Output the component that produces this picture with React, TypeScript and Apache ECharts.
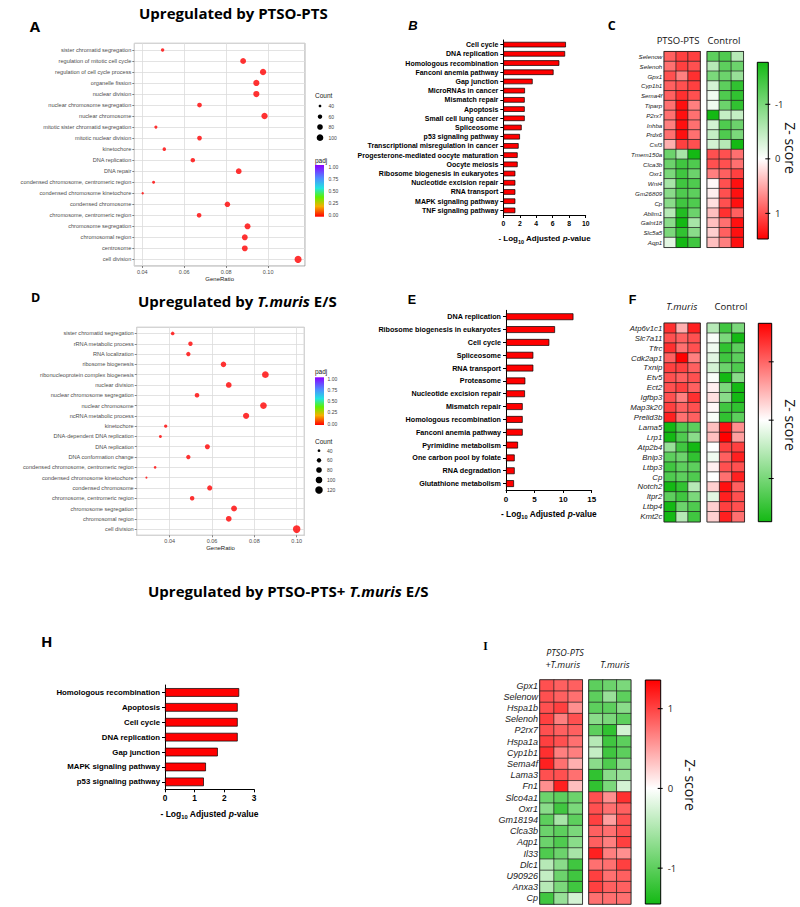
import React, { useEffect, useRef } from "react";
import * as echarts from "echarts";

// ---------------- Panel A (GO dot plot, PTSO-PTS) ----------------
const aTerms = [
  "sister chromatid segregation", "regulation of mitotic cell cycle", "regulation of cell cycle process",
  "organelle fission", "nuclear division", "nuclear chromosome segregation", "nuclear chromosome",
  "mitotic sister chromatid segregation", "mitotic nuclear division", "kinetochore", "DNA replication",
  "DNA repair", "condensed chromosome, centromeric region", "condensed chromosome kinetochore",
  "condensed chromosome", "chromosome, centromeric region", "chromosome segregation",
  "chromosomal region", "centrosome", "cell division",
];
const aRatio = [0.0497, 0.0881, 0.0976, 0.0944, 0.0944, 0.0673, 0.0983, 0.0465, 0.0673, 0.0505, 0.0641, 0.0860, 0.0454, 0.0402, 0.0806, 0.0671, 0.0902, 0.0889, 0.0889, 0.1143];
const aCount = [47, 84, 93, 90, 90, 64, 94, 44, 64, 48, 61, 82, 43, 38, 77, 64, 86, 84, 84, 109];
const aCountLegend = [40, 60, 80, 100];

// ---------------- Panel D (GO dot plot, T.muris) ----------------
const dTerms = [
  "sister chromatid segregation", "rRNA metabolic process", "RNA localization", "ribosome biogenesis",
  "ribonucleoprotein complex biogenesis", "nuclear division", "nuclear chromosome segregation",
  "nuclear chromosome", "ncRNA metabolic process", "kinetochore", "DNA-dependent DNA replication",
  "DNA replication", "DNA conformation change", "condensed chromosome, centromeric region",
  "condensed chromosome kinetochore", "condensed chromosome", "chromosome, centromeric region",
  "chromosome segregation", "chromosomal region", "cell division",
];
const dRatio = [0.0414, 0.0498, 0.0488, 0.0654, 0.0852, 0.0679, 0.0529, 0.0843, 0.0761, 0.0381, 0.0356, 0.0578, 0.0488, 0.0331, 0.0290, 0.0589, 0.0506, 0.0704, 0.0679, 0.1000];
const dCount = [50, 60, 59, 78, 102, 81, 63, 101, 91, 46, 43, 69, 59, 40, 35, 71, 61, 84, 81, 120];
const dCountLegend = [40, 60, 80, 100, 120];
const padjTicks = ["1.00", "0.75", "0.50", "0.25", "0.00"];

// ---------------- Panel B (KEGG bars) ----------------
const bTerms = [
  "Cell cycle", "DNA replication", "Homologous recombination", "Fanconi anemia pathway", "Gap junction",
  "MicroRNAs in cancer", "Mismatch repair", "Apoptosis", "Small cell lung cancer", "Spliceosome",
  "p53 signaling pathway", "Transcriptional misregulation in cancer", "Progesterone-mediated oocyte maturation",
  "Oocyte meiosis", "Ribosome biogenesis in eukaryotes", "Nucleotide excision repair", "RNA transport",
  "MAPK signaling pathway", "TNF signaling pathway",
];
const bValues = [7.6, 7.5, 6.8, 6.1, 3.56, 2.63, 2.6, 2.6, 2.6, 2.23, 2.02, 1.86, 1.74, 1.74, 1.46, 1.46, 1.46, 1.46, 1.46];

// ---------------- Panel E ----------------
const eTerms = [
  "DNA replication", "Ribosome biogenesis in eukaryotes", "Cell cycle", "Spliceosome", "RNA transport",
  "Proteasome", "Nucleotide excision repair", "Mismatch repair", "Homologous recombination",
  "Fanconi anemia pathway", "Pyrimidine metabolism", "One carbon pool by folate", "RNA degradation",
  "Glutathione metabolism",
];
const eValues = [11.8, 8.58, 7.58, 4.78, 4.78, 3.38, 3.32, 2.92, 2.92, 2.92, 2.1, 1.52, 1.52, 1.4];

// ---------------- Panel H ----------------
const hTerms = [
  "Homologous recombination", "Apoptosis", "Cell cycle", "DNA replication", "Gap junction",
  "MAPK signaling pathway", "p53 signaling pathway",
];
const hValues = [2.5, 2.45, 2.45, 2.45, 1.78, 1.38, 1.31];

// ---------------- Panel C heatmap ----------------
const cGenes = ["Selenow", "Selenoh", "Gpx1", "Cyp1b1", "Sema4f", "Tiparp", "P2rx7", "Inhba", "Prdx6", "Csf3",
  "Tmem150a", "Clca3b", "Oxr1", "Wnt4", "Gm26809", "Cp", "Ablim1", "Galnt18", "Slc5a5", "Aqp1"];
const cTreat = [
  [1.0, 1.2, 1.2], [0.9, 1.2, 1.1], [1.1, 0.8, 1.3], [1.0, 1.1, 1.2], [1.0, 1.3, 1.1],
  [0.9, 1.5, 0.8], [0.9, 1.5, 0.9], [0.8, 1.5, 0.9], [0.9, 1.5, 0.9], [0.5, 1.2, 1.1],
  [-1.0, -0.6, -1.6], [-1.0, -1.3, -1.2], [-0.9, -1.3, -1.0], [-0.6, -1.3, -1.2], [-0.8, -1.2, -1.1],
  [-0.8, -1.3, -1.2], [-0.5, -1.5, -1.0], [-0.8, -1.6, -0.6], [-0.9, -1.4, -0.8], [-0.2, -1.6, -1.3],
];
const cCtrl = [
  [-1.1, -1.2, -0.5], [-0.5, -1.1, -1.0], [-0.9, -1.0, -0.7], [-0.3, -1.1, -1.4], [-0.1, -1.2, -1.4],
  [-0.1, -1.0, -1.4], [-1.6, -0.4, -0.4], [-0.3, -1.2, -1.0], [-0.4, -1.2, -0.9], [-0.3, -0.5, -1.6],
  [1.1, 1.1, 0.9], [1.1, 1.1, 0.9], [0.8, 1.0, 1.2], [0.05, 1.1, 1.5], [0.1, 1.1, 1.5],
  [0.2, 1.1, 1.5], [0.4, 1.3, 1.0], [0.4, 0.9, 1.5], [0.3, 1.0, 1.5], [0.4, 0.8, 1.5],
];

// ---------------- Panel F heatmap ----------------
const fGenes = ["Atp6v1c1", "Slc7a11", "Tfrc", "Cdk2ap1", "Txnip", "Etv5", "Ect2", "Igfbp3", "Map3k20", "Prelid3b",
  "Lama5", "Lrp1", "Atp2b4", "Bnip3", "Ltbp3", "Cp", "Notch2", "Itpr2", "Ltbp4", "Kmt2c"];
const fTreat = [
  [1.3, 0.5, 1.4], [1.1, 1.0, 1.1], [1.3, 0.9, 1.1], [1.0, 1.6, 0.8], [1.2, 1.2, 1.0],
  [1.1, 1.0, 1.1], [1.1, 1.2, 1.0], [1.1, 0.8, 1.3], [1.2, 1.0, 1.1], [1.4, 0.9, 1.0],
  [-1.6, -1.2, -1.1], [-1.6, -1.2, -0.8], [-0.7, -1.3, -1.6], [-1.1, -1.0, -1.4], [-1.3, -1.1, -1.1],
  [-1.2, -1.1, -1.2], [-1.6, -1.4, -0.5], [-1.1, -1.3, -0.9], [-1.6, -1.0, -1.2], [-1.6, -0.5, -1.3],
];
const fCtrl = [
  [-0.5, -1.3, -0.9], [-0.05, -0.9, -1.6], [-0.1, -1.4, -1.1], [-0.2, -1.3, -1.1], [-0.3, -1.0, -1.2],
  [-0.05, -1.6, -0.8], [0.1, -0.9, -1.6], [0.2, -0.8, -1.6], [0.05, -1.3, -1.4], [-0.05, -1.4, -1.1],
  [0.4, 1.5, 0.7], [0.4, 1.6, 0.6], [0.0, 1.2, 1.2], [-0.1, 1.0, 1.4], [0.1, 1.1, 1.1],
  [0.0, 0.9, 1.4], [0.3, 1.5, 1.0], [-0.2, 1.4, 1.1], [0.3, 1.2, 1.1], [0.3, 1.4, 0.9],
];

// ---------------- Panel I heatmap ----------------
const iGenes = ["Gpx1", "Selenow", "Hspa1b", "Selenoh", "P2rx7", "Hspa1a", "Cyp1b1", "Sema4f", "Lama3", "Fn1",
  "Slco4a1", "Oxr1", "Gm18194", "Clca3b", "Aqp1", "Il33", "Dlc1", "U90926", "Anxa3", "Cp"];
const iTreat = [
  [1.1, 1.0, 1.0], [1.1, 1.0, 0.9], [1.1, 1.2, 0.7], [1.2, 0.8, 1.1], [1.1, 1.0, 1.0],
  [1.2, 1.1, 0.9], [1.3, 0.8, 0.8], [1.4, 0.9, 0.5], [1.1, 1.1, 0.9], [0.7, 1.4, 0.4],
  [-1.0, -1.1, -1.0], [-0.8, -1.3, -0.9], [-1.1, -0.6, -1.1], [-1.0, -1.1, -0.9], [-1.0, -1.2, -0.8],
  [-1.2, -1.0, -0.6], [-0.5, -0.8, -1.3], [-0.4, -1.0, -1.3], [-0.5, -0.9, -1.3], [-1.3, -0.7, -0.3],
];
const iCtrl = [
  [-1.1, -1.0, -0.9], [-1.1, -0.7, -1.1], [-1.1, -1.1, -0.8], [-0.8, -0.9, -1.1], [-1.1, -1.4, -0.3],
  [-0.5, -1.3, -1.1], [-0.4, -1.3, -1.1], [-0.8, -1.2, -0.8], [-1.4, -0.8, -0.7], [-1.4, -0.9, -0.3],
  [1.1, 0.7, 1.3], [1.1, 0.9, 1.0], [1.2, 0.6, 1.1], [1.0, 0.9, 1.1], [1.0, 0.8, 1.2],
  [1.4, 0.8, 0.7], [0.9, 0.9, 1.2], [1.2, 0.9, 1.0], [1.2, 1.0, 1.0], [0.9, 0.9, 0.9],
];
const sampleCols = ["1", "2", "3"];

const GREEN = "#14B914";
const RED = "#FF0000";
const UI = "'Open Sans', 'Noto Sans', sans-serif";
const AR = "'Liberation Sans', Arial, sans-serif";

const dotSize = (c: number) => Math.sqrt(Math.max(0.62 * c - 17.5, 2.5));
const toCells = (m: number[][]) => m.flatMap((row, r) => row.map((v, c) => [c, r, v]));

function txt(x: number, y: number, t: string, style: any = {}, rotation = 0) {
  return {
    type: "text", x, y, rotation, z: 100,
    style: { text: t, fill: "#000", fontFamily: AR, fontSize: 10, align: "left", verticalAlign: "middle", ...style },
  };
}

function zBar(x: number, y: number, w: number, h: number, topVal: number, botVal: number, ticks: number[], labelX: number | null) {
  const els: any[] = [];
  const zero = (0 - topVal) / (botVal - topVal);
  const topC = topVal < 0 ? GREEN : RED;
  const botC = botVal < 0 ? GREEN : RED;
  els.push({
    type: "rect", z: 100, shape: { x, y, width: w, height: h },
    style: {
      fill: new echarts.graphic.LinearGradient(0, 0, 0, 1, [
        { offset: 0, color: topC }, { offset: zero, color: "#FFFFFF" }, { offset: 1, color: botC },
      ]),
      stroke: "#000", lineWidth: 1,
    },
  });
  ticks.forEach((v) => {
    const ty = y + ((v - topVal) / (botVal - topVal)) * h;
    els.push({ type: "line", z: 101, shape: { x1: x + w - 3, y1: ty, x2: x + w + 2, y2: ty }, style: { stroke: "#000", lineWidth: 1 } });
    if (labelX !== null) els.push(txt(labelX, ty, String(v), { fontFamily: UI, fontSize: 9.5, fill: "#222" }));
  });
  return els;
}

function dotLegend(x: number, titleY: number, dotX: number, dotYs: number[], counts: number[], labelX: number) {
  const els: any[] = [txt(x, titleY, "Count", { fontSize: 6.5, fill: "#222" })];
  counts.forEach((c, i) => {
    els.push({ type: "circle", z: 100, shape: { cx: dotX, cy: dotYs[i], r: dotSize(c) / 2 }, style: { fill: "#000" } });
    els.push(txt(labelX, dotYs[i], String(c), { fontSize: 5, fill: "#444" }));
  });
  return els;
}

function padjLegend(x: number, titleY: number, barY: number, barH: number, labelX: number) {
  const els: any[] = [txt(x, titleY, "padj", { fontSize: 6.5, fill: "#222" })];
  els.push({
    type: "rect", z: 100, shape: { x, y: barY, width: 9, height: barH },
    style: {
      fill: new echarts.graphic.LinearGradient(0, 0, 0, 1, [
        { offset: 0, color: "#8B00FF" }, { offset: 0.25, color: "#4F8BFF" }, { offset: 0.45, color: "#22E5E0" },
        { offset: 0.62, color: "#5EF000" }, { offset: 0.8, color: "#F5B000" }, { offset: 1, color: "#FF0000" },
      ]),
    },
  });
  padjTicks.forEach((t, i) => {
    els.push(txt(labelX, barY + 1.5 + (i * (barH - 3)) / (padjTicks.length - 1), t, { fontSize: 5, fill: "#444" }));
  });
  return els;
}

const titleRich = {
  b: { fontFamily: UI, fontWeight: "bold", fontSize: 15, fill: "#000" },
  bi: { fontFamily: UI, fontWeight: "bold", fontStyle: "italic", fontSize: 15, fill: "#000" },
};

const logName = "{a|- Log}{s|10}{a| Adjusted }{i|p}{a|-value}";
const logRich = (fs: number) => ({
  a: { fontSize: fs, fontWeight: "bold", color: "#000", fontFamily: AR, lineHeight: 12 },
  s: { fontSize: fs * 0.68, fontWeight: "bold", color: "#000", fontFamily: AR, lineHeight: 7, verticalAlign: "bottom" },
  i: { fontSize: fs, fontWeight: "bold", fontStyle: "italic", color: "#000", fontFamily: AR, lineHeight: 12 },
});

function dotAxes(gi: number, terms: string[], min: number, max: number) {
  const x = {
    gridIndex: gi, type: "value", min, max, splitNumber: 4,
    axisLine: { show: false, onZero: false },
    axisTick: { show: true, length: 2, lineStyle: { color: "#333", width: 0.6 } },
    axisLabel: { fontSize: 5.5, color: "#4d4d4d", margin: 3, showMinLabel: false, showMaxLabel: false, formatter: (v: number) => v.toFixed(2) },
    splitLine: { show: true, lineStyle: { color: "#dcdcdc", width: 0.8 } },
    name: "GeneRatio", nameLocation: "middle", nameGap: 10, nameTextStyle: { fontSize: 6, color: "#222", fontFamily: AR },
  };
  const y = {
    gridIndex: gi, type: "value", min: -0.6, max: terms.length - 0.4, splitNumber: terms.length, inverse: true,
    axisLine: { show: false, onZero: false },
    axisTick: { show: true, length: 2, lineStyle: { color: "#333", width: 0.6 } },
    axisLabel: {
      fontSize: 5.6, color: "#4d4d4d", margin: 3, showMinLabel: false, showMaxLabel: false,
      formatter: (v: number) => (Number.isInteger(v) && v >= 0 && v < terms.length ? terms[Math.abs(v)] : ""),
    },
    splitLine: { show: true, lineStyle: { color: "#dcdcdc", width: 0.8 } },
  };
  return { x, y };
}

function barAxes(gi: number, terms: string[], max: number, interval: number, fs: number, tickFs: number, nameGap: number, nameFs: number) {
  const x = {
    gridIndex: gi, type: "value", min: 0, max, interval,
    axisLine: { show: true, lineStyle: { color: "#000", width: 1 } },
    axisTick: { show: true, length: 3, lineStyle: { color: "#000", width: 1 } },
    axisLabel: { fontWeight: "bold", fontSize: tickFs, color: "#000", margin: 5, fontFamily: AR },
    splitLine: { show: false },
    name: logName, nameLocation: "middle", nameGap, nameTextStyle: { rich: logRich(nameFs) },
  };
  const y = {
    gridIndex: gi, type: "category", data: terms, inverse: true,
    axisLine: { show: true, lineStyle: { color: "#000", width: 1 } },
    axisTick: { show: true, length: 3, alignWithLabel: true, lineStyle: { color: "#000", width: 1 } },
    axisLabel: { fontWeight: "bold", fontSize: fs, color: "#000", margin: 5, fontFamily: AR, interval: 0 },
  };
  return { x, y };
}

function heatAxes(gi: number, genes: string[], showLabels: boolean, fs: number) {
  const x = { gridIndex: gi, type: "category", data: sampleCols, show: false };
  const y = {
    gridIndex: gi, type: "category", data: genes, inverse: true,
    axisLine: { show: false }, axisTick: { show: false },
    axisLabel: { show: showLabels, fontStyle: "italic", fontSize: fs, color: "#222", margin: 2, fontFamily: AR, interval: 0 },
  };
  return { x, y };
}

const grids = [
  { left: 134.3, top: 43.3, width: 170.7, height: 222.7 },   // 0 A
  { left: 503.3, top: 40, width: 82.4, height: 175 },        // 1 B
  { left: 664.3, top: 51.7, width: 35.7, height: 195.6 },    // 2 C1
  { left: 707.3, top: 51.7, width: 36, height: 195.6 },      // 3 C2
  { left: 136.7, top: 327.3, width: 167.6, height: 208 },    // 4 D
  { left: 506, top: 310.3, width: 85.7, height: 179.7 },     // 5 E
  { left: 664.3, top: 323.3, width: 35.7, height: 198.4 },   // 6 F1
  { left: 707.3, top: 323.3, width: 37, height: 198.4 },     // 7 F2
  { left: 165, top: 685, width: 89, height: 104.3 },         // 8 H
  { left: 540, top: 680, width: 42.3, height: 224 },         // 9 I1
  { left: 589, top: 680, width: 41.7, height: 224 },         // 10 I2
];

export default function App() {
  const ref = useRef<HTMLDivElement>(null);
  useEffect(() => {
    if (!ref.current) return;
    const chart = echarts.init(ref.current, undefined, { renderer: "svg" });

    const aA = dotAxes(0, aTerms, 0.0362, 0.1176);
    const bA = barAxes(1, bTerms, 10, 2, 7, 6.8, 17, 8);
    const c1 = heatAxes(2, cGenes, true, 6.2);
    const c2 = heatAxes(3, cGenes, false, 6.2);
    const dA = dotAxes(4, dTerms, 0.0244, 0.1036);
    const eA = barAxes(5, eTerms, 15, 5, 7.2, 8, 18, 8.3);
    const f1 = heatAxes(6, fGenes, true, 7.8);
    const f2 = heatAxes(7, fGenes, false, 7.8);
    const hA = barAxes(8, hTerms, 3, 1, 7.8, 8.3, 19, 8.5);
    const i1 = heatAxes(9, iGenes, true, 9);
    const i2 = heatAxes(10, iGenes, false, 9);
    const axes = [aA, bA, c1, c2, dA, eA, f1, f2, hA, i1, i2];

    const gridOpts = grids.map((g, i) => {
      const isDot = i === 0 || i === 4;
      const isHeat = [2, 3, 6, 7, 9, 10].includes(i);
      return {
        ...g, containLabel: false,
        show: isDot || isHeat,
        borderColor: isDot ? "#8a8a8a" : "#000",
        borderWidth: isDot ? 0.8 : 1.2,
        backgroundColor: "#fff",
      };
    });

    const barSeries = (idx: number, data: number[], gap: string) => ({
      type: "bar", xAxisIndex: idx, yAxisIndex: idx, data, barCategoryGap: gap,
      itemStyle: { color: RED, borderColor: "#000", borderWidth: 0.7 }, silent: true,
    });
    const dotSeries = (idx: number, ratio: number[], count: number[]) => ({
      type: "scatter", xAxisIndex: idx, yAxisIndex: idx,
      data: ratio.map((r, i) => [r, i, count[i]]),
      symbolSize: (v: number[]) => dotSize(v[2]),
      itemStyle: { color: RED }, silent: true,
    });
    const heatSeries = (idx: number, m: number[][]) => ({
      type: "heatmap", xAxisIndex: idx, yAxisIndex: idx, data: toCells(m),
      itemStyle: { borderColor: "#222", borderWidth: 0.7 }, silent: true,
    });

    const graphics: any[] = [
      // titles
      txt(139, 12.5, "{b|Upregulated by PTSO-PTS}", { rich: titleRich }),
      txt(138, 301, "{b|Upregulated by }{bi|T.muris}{b| E/S}", { rich: titleRich }),
      txt(148, 590.5, "{b|Upregulated by PTSO-PTS+ }{bi|T.muris}{b| E/S}", { rich: titleRich }),
      // panel letters
      txt(35, 26, "A", { fontFamily: UI, fontWeight: "bold", fontSize: 15, align: "center" }),
      txt(413, 25, "B", { fontFamily: AR, fontWeight: "bold", fontStyle: "italic", fontSize: 13, align: "center" }),
      txt(611.7, 25, "C", { fontFamily: UI, fontWeight: "bold", fontSize: 12.5, align: "center" }),
      txt(35.5, 297, "D", { fontFamily: UI, fontWeight: "bold", fontSize: 12.5, align: "center" }),
      txt(412, 299.5, "E", { fontFamily: AR, fontWeight: "bold", fontSize: 12.5, align: "center" }),
      txt(632.5, 299.5, "F", { fontFamily: AR, fontWeight: "bold", fontSize: 12.5, align: "center" }),
      txt(46.7, 640.5, "H", { fontFamily: UI, fontWeight: "bold", fontSize: 15, align: "center" }),
      txt(485.5, 645.5, "I", { fontFamily: "'Liberation Serif', serif", fontWeight: "bold", fontSize: 11.5, align: "center" }),
      // heatmap headers
      txt(678, 40, "PTSO-PTS", { fontFamily: UI, fontSize: 9.5, align: "center", fill: "#111" }),
      txt(724, 40, "Control", { fontFamily: UI, fontSize: 9.5, align: "center", fill: "#111" }),
      txt(681.7, 306, "T.muris", { fontFamily: UI, fontStyle: "italic", fontSize: 9.5, align: "center", fill: "#111" }),
      txt(731, 306, "Control", { fontFamily: UI, fontSize: 9.5, align: "center", fill: "#111" }),
      txt(565, 652.7, "PTSO-PTS", { fontFamily: UI, fontStyle: "italic", fontSize: 9, align: "center", fill: "#111" }),
      txt(562.7, 664.3, "+T.muris", { fontFamily: UI, fontStyle: "italic", fontSize: 9, align: "center", fill: "#111" }),
      txt(615, 664.3, "T.muris", { fontFamily: UI, fontStyle: "italic", fontSize: 9, align: "center", fill: "#111" }),
      // Z-score titles
      txt(790, 148, "Z- score", { fontFamily: UI, fontSize: 14, align: "center", fill: "#111" }, -Math.PI / 2),
      txt(790, 425, "Z- score", { fontFamily: UI, fontSize: 14, align: "center", fill: "#111" }, -Math.PI / 2),
      txt(690, 785, "Z- score", { fontFamily: UI, fontSize: 14, align: "center", fill: "#111" }, -Math.PI / 2),
      ...zBar(757.3, 62.3, 11, 176.7, -1.77, 1.47, [-1, 0, 1], 775),
      ...zBar(758.3, 323.3, 13.4, 198.4, 1.66, -1.74, [1, 0, -1], null),
      ...zBar(645.3, 680, 15.4, 224, 1.36, -1.45, [1, 0, -1], 667.7),
      // dot plot legends
      ...dotLegend(315, 95, 320, [106, 116.7, 127, 137.7], aCountLegend, 328.5),
      ...padjLegend(315, 160, 165, 51.7, 328.5),
      ...padjLegend(315, 371.7, 377.3, 47.7, 327.5),
      ...dotLegend(315, 441, 319, [450.7, 460.3, 470, 480, 490], dCountLegend, 327),
    ];

    chart.setOption({
      animation: false,
      backgroundColor: "#fff",
      textStyle: { fontFamily: AR },
      grid: gridOpts,
      xAxis: axes.map((a) => a.x),
      yAxis: axes.map((a) => a.y),
      visualMap: [{
        type: "continuous", show: false, min: -1.6, max: 1.6, seriesIndex: [2, 3, 6, 7, 9, 10],
        inRange: { color: [GREEN, "#FFFFFF", RED] },
      }],
      series: [
        dotSeries(0, aRatio, aCount),
        barSeries(1, bValues, "40%"),
        heatSeries(2, cTreat),
        heatSeries(3, cCtrl),
        dotSeries(4, dRatio, dCount),
        barSeries(5, eValues, "47%"),
        heatSeries(6, fTreat),
        heatSeries(7, fCtrl),
        barSeries(8, hValues, "42%"),
        heatSeries(9, iTreat),
        heatSeries(10, iCtrl),
      ],
      graphic: graphics,
    });
    return () => chart.dispose();
  }, []);
  return <div ref={ref} style={{ position: "fixed", left: 0, top: 0, width: 800, height: 907, background: "#fff" }} />;
}
